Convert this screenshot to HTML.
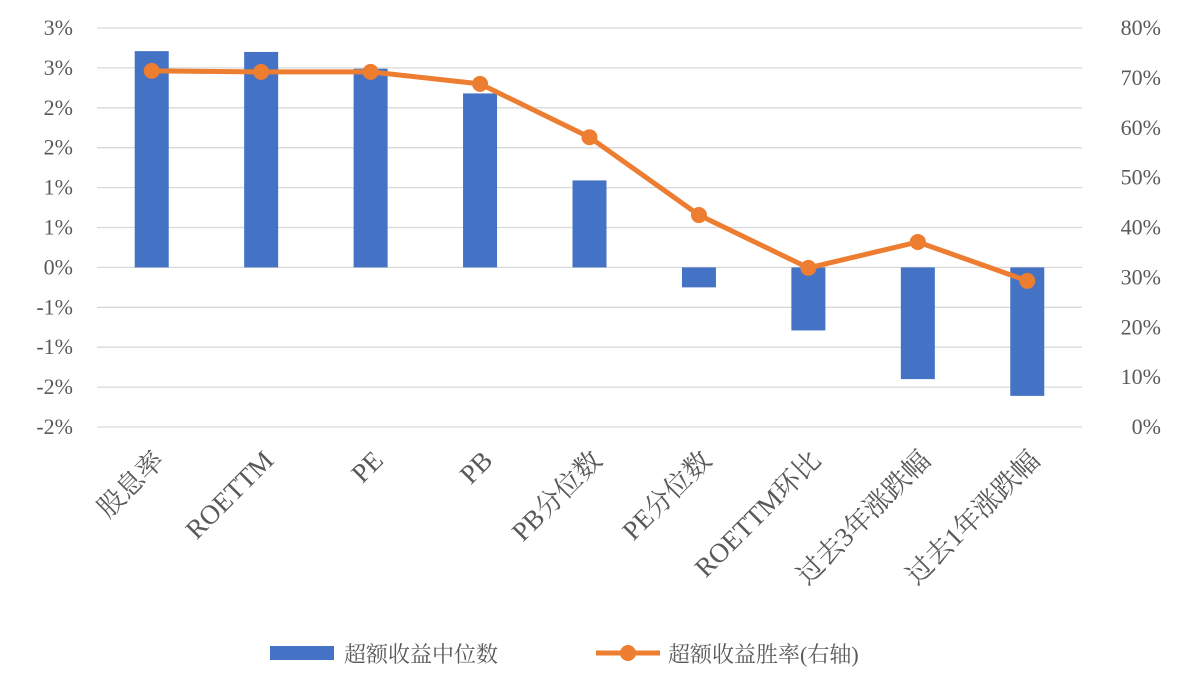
<!DOCTYPE html>
<html><head><meta charset="utf-8"><style>
body{margin:0;background:#fff;}
svg text{font-family:"Liberation Serif","Noto Serif CJK SC",serif;fill:#595959;}
</style></head><body>
<svg id="chart" width="1182" height="681" viewBox="0 0 1182 681" xmlns="http://www.w3.org/2000/svg">
<g id="grid"></g>
<g id="bars"></g>
<g id="line"></g>
<g id="yl"></g>
<g id="yr"></g>
<g id="xl"></g>
<g>
<rect x="270" y="646" width="64" height="14" fill="#4472c4"/>
<text x="344" y="662" font-size="22">超额收益中位数</text>
<line x1="596" y1="653" x2="660" y2="653" stroke="#ed7d31" stroke-width="5"/>
<circle cx="628" cy="653" r="8" fill="#ed7d31"/>
<text x="668" y="662" font-size="22">超额收益胜率(右轴)</text>
</g>
</svg>
<script>
const categories=["股息率","ROETTM","PE","PB","PB分位数","PE分位数","ROETTM环比","过去3年涨跌幅","过去1年涨跌幅"];
const medianValues=[2.71,2.70,2.49,2.18,1.09,-0.25,-0.79,-1.40,-1.61];
const winRates=[71.4,71.2,71.2,68.8,58.1,42.5,31.9,37.1,29.3];
const leftTicks=[3.0,2.5,2.0,1.5,1.0,0.5,0,-0.5,-1.0,-1.5,-2.0];
const leftTickLabels=["3%","3%","2%","2%","1%","1%","0%","-1%","-1%","-2%","-2%"];
const rightTicks=[0,10,20,30,40,50,60,70,80];
const NS="http://www.w3.org/2000/svg";
const yTop=28,yBot=427,x0=97,x1=1082;
const yL=v=>yTop+(3.0-v)/5.0*(yBot-yTop);
const yR=v=>yBot-v/80*(yBot-yTop);
const step=(x1-x0)/categories.length;
const xC=i=>x0+step*(i+0.5);
function mk(t,a,p){const e=document.createElementNS(NS,t);for(const k in a)e.setAttribute(k,a[k]);p.appendChild(e);return e;}
const g=document.getElementById('grid'),yl=document.getElementById('yl'),yr=document.getElementById('yr');
leftTicks.forEach((v,i)=>{
 const l=mk('line',{x1:x0,x2:x1,y1:yL(v),y2:yL(v),stroke:'#d9d9d9','stroke-width':1.3},g);
 
 
 const t=mk('text',{x:73,y:yL(v)+7,'text-anchor':'end','font-size':22},yl);
 t.textContent=leftTickLabels[i];
 
 
});
rightTicks.forEach(v=>{
 const t=mk('text',{x:1161,y:yR(v)+7,'text-anchor':'end','font-size':22},yr);
 t.textContent=v+'%';
 
 
});
const bg=document.getElementById('bars');
medianValues.forEach((v,i)=>{
 const y=Math.min(yL(v),yL(0)),h=Math.abs(yL(v)-yL(0));
 const r=mk('rect',{x:xC(i)-17,y:y,width:34,height:h,fill:'#4472c4'},bg);
 
 
});
const lg=document.getElementById('line');
const pts=winRates.map((v,i)=>xC(i)+','+yR(v)).join(' ');
const pl=mk('polyline',{points:pts,fill:'none',stroke:'#ed7d31','stroke-width':5,'stroke-linejoin':'round'},lg);


winRates.forEach((v,i)=>{
 const c=mk('circle',{cx:xC(i),cy:yR(v),r:8,fill:'#ed7d31'},lg);
 
 
});
const xl=document.getElementById('xl');
categories.forEach((c,i)=>{
 const x=xC(i)+14,y=462;
 const t=mk('text',{x:x,y:y,'text-anchor':'end','font-size':27,transform:`rotate(-45 ${x} ${y})`},xl);
 t.textContent=c;
 
 
});
</script>
</body></html>
